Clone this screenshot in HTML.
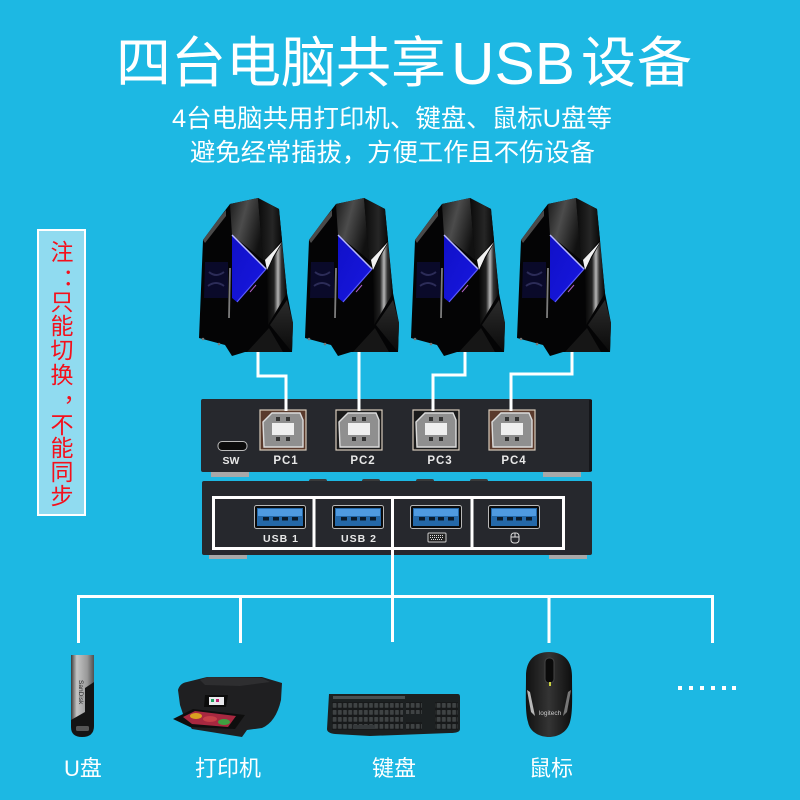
<!DOCTYPE html>
<html><head><meta charset="utf-8"><style>
html,body{margin:0;padding:0;background:#1db8e3}
svg{display:block}
.t{font-family:"Liberation Sans","Noto Sans CJK SC",sans-serif;fill:#fff}
.l{font-family:"Liberation Sans",sans-serif;font-weight:bold;fill:#e8e8e8;text-anchor:middle}
.n{font-family:"Liberation Sans","Noto Sans CJK SC",sans-serif;fill:#f4101c;font-size:23px;text-anchor:middle}
</style></head><body>
<svg width="800" height="800" viewBox="0 0 800 800" xmlns="http://www.w3.org/2000/svg">
<defs>
<linearGradient id="g1" x1="0" x2="1" y1="0" y2="0.5"><stop offset="0" stop-color="#1a1a1a"/><stop offset=".45" stop-color="#4c4c4c"/><stop offset="1" stop-color="#111"/></linearGradient>
<linearGradient id="g2" x1="0" x2="1" y1="0" y2="0"><stop offset="0" stop-color="#0a0a0a"/><stop offset=".6" stop-color="#262626"/><stop offset="1" stop-color="#080808"/></linearGradient>
<linearGradient id="g3" x1="0" x2="1" y1="0" y2="0"><stop offset="0" stop-color="#060606"/><stop offset=".35" stop-color="#222"/><stop offset=".55" stop-color="#b5b5b5"/><stop offset=".72" stop-color="#333"/><stop offset="1" stop-color="#050505"/></linearGradient>
<linearGradient id="g4" x1="0" x2="0" y1="0" y2="1"><stop offset="0" stop-color="#2c2c2c"/><stop offset="1" stop-color="#0a0a0a"/></linearGradient>
<linearGradient id="bl" x1="0" x2="1" y1="0" y2="1"><stop offset="0" stop-color="#1010c8"/><stop offset="1" stop-color="#1818e0"/></linearGradient>
<linearGradient id="st" x1="0" x2="1" y1="0" y2="0"><stop offset="0" stop-color="#3a3a3a"/><stop offset=".25" stop-color="#c4c4c4"/><stop offset=".7" stop-color="#9a9a9a"/><stop offset="1" stop-color="#505050"/></linearGradient>
<linearGradient id="ms" x1="0" x2="1" y1="0" y2="0"><stop offset="0" stop-color="#111"/><stop offset=".5" stop-color="#343434"/><stop offset="1" stop-color="#0e0e0e"/></linearGradient>
<pattern id="keys" width="5.200" height="7" patternUnits="userSpaceOnUse" x="332" y="702"><rect width="5.200" height="7" fill="#17191a"/><rect x=".7" y="1" width="3.800" height="4.800" rx=".7" fill="#3f4344"/></pattern>

<g id="tower">
<polygon points="230,204 258,198 279,209 282,240 287,293 293,323 292,352 245,352 232,356 225,345 199,338 203,240 220,217" fill="#040405"/>
<polygon points="203,240 220,217 226,210 226,216 205,243" fill="#4a4a4a"/>
<polygon points="205,262 228,262 228,298 204,298" fill="#0a0a2a"/>
<path d="M209 272q7 6 15 0M208 286q8-6 16 0" stroke="#2c2c58" stroke-width="2" fill="none"/>
<polygon points="230,204 258,198 263,260 232,235" fill="url(#g1)"/>
<polygon points="258,198 279,209 282,240 265,260 263,260" fill="url(#g2)"/>
<polygon points="232,235 266,269 237,302 232,298" fill="url(#bl)"/>
<path d="M232 235L266 269" stroke="#b8b8ff" stroke-width="1.500"/>
<path d="M237 302L266 269" stroke="#5c5cff" stroke-width="1.200"/>
<path d="M250 292l6-7" stroke="#b060c8" stroke-width="1"/>
<polygon points="282,242 265,260 267,270 273,257" fill="#f2f2f2"/>
<polygon points="267,270 282,243 287,293 268,325" fill="url(#g3)"/>
<path d="M230 268L229 318" stroke="#7c7c7c" stroke-width="1.800"/>
<polygon points="287,300 293,323 292,352 270,325" fill="url(#g4)"/>
<polygon points="247,352 269,328 283,352" fill="#161616"/>
<circle cx="203" cy="339" r="1.300" fill="#777"/><circle cx="219" cy="344" r="1.300" fill="#777"/>
</g>

<g id="pb">
<rect x="0" y="0" width="46" height="40" fill="none" stroke="#d8ccbc" stroke-width="1.200"/>
<polygon points="3,12 12,3 40,3 43,10 43,37 4,37" fill="#8f8f8f" stroke="#dcdcdc" stroke-width="1.400"/>
<rect x="12" y="13" width="22" height="12" fill="#efefef"/>
<rect x="16" y="7" width="4" height="4" fill="#333"/><rect x="26" y="7" width="4" height="4" fill="#333"/>
<rect x="16" y="27" width="4" height="4" fill="#333"/><rect x="26" y="27" width="4" height="4" fill="#333"/>
</g>

<g id="pa">
<rect x=".5" y=".5" width="51" height="23" rx="2" fill="#0a0a0a" stroke="#b8b8b8" stroke-width="1"/>
<rect x="3" y="3" width="46" height="18" fill="#2468a8"/>
<rect x="4" y="4" width="44" height="7" fill="#4f9ae0"/>
<rect x="9" y="12" width="6" height="3.500" fill="#0a1a2a"/><rect x="19" y="12" width="6" height="3.500" fill="#0a1a2a"/><rect x="28" y="12" width="6" height="3.500" fill="#0a1a2a"/><rect x="38" y="12" width="6" height="3.500" fill="#0a1a2a"/>
</g>
</defs>

<rect width="800" height="800" fill="#1db8e3"/>

<!-- headings -->
<text class="t" x="116" y="82" font-size="55" textLength="330" lengthAdjust="spacing">四台电脑共享</text>
<text class="t" x="451" y="84" font-size="59" textLength="124" lengthAdjust="spacingAndGlyphs">USB</text>
<text class="t" x="581" y="82" font-size="55" textLength="111" lengthAdjust="spacing">设备</text>
<text class="t" x="172" y="127" font-size="25" textLength="440" lengthAdjust="spacingAndGlyphs">4台电脑共用打印机、键盘、鼠标U盘等</text>
<text class="t" x="190" y="161" font-size="25" textLength="405" lengthAdjust="spacingAndGlyphs">避免经常插拔，方便工作且不伤设备</text>

<!-- note -->
<rect x="38" y="230" width="47" height="285" fill="#90dbf0" stroke="#fff" stroke-width="2"/>
<text class="n" x="62" y="260">注</text>
<text class="n" x="74" y="285">：</text>
<text class="n" x="62" y="310">只</text>
<text class="n" x="62" y="334">能</text>
<text class="n" x="62" y="358">切</text>
<text class="n" x="62" y="383">换</text>
<text class="n" x="75" y="401">，</text>
<text class="n" x="62" y="433">不</text>
<text class="n" x="62" y="456">能</text>
<text class="n" x="62" y="480">同</text>
<text class="n" x="62" y="504">步</text>

<!-- towers -->
<use href="#tower"/>
<use href="#tower" x="106"/>
<use href="#tower" x="212"/>
<use href="#tower" x="318"/>

<!-- top switch -->
<rect x="211" y="470" width="38" height="7" fill="#a8a8a8"/>
<rect x="543" y="470" width="38" height="7" fill="#a8a8a8"/>
<rect x="201" y="399" width="391" height="73" rx="2" fill="#26282d"/>
<rect x="589" y="400" width="3" height="71" fill="#15161a"/>
<rect x="218" y="441.500" width="29" height="9" rx="4" fill="#0c0c0c" stroke="#bbb" stroke-width="1"/>
<rect x="260" y="410" width="46" height="40" fill="#5a3a2c"/>
<rect x="336" y="410" width="46" height="40" fill="#1a1a1a"/>
<rect x="413" y="410" width="46" height="40" fill="#1a1a1a"/>
<rect x="489" y="410" width="46" height="40" fill="#5a3a2c"/>
<use href="#pb" x="260" y="410"/>
<use href="#pb" x="336" y="410"/>
<use href="#pb" x="413" y="410"/>
<use href="#pb" x="489" y="410"/>
<text class="l" x="231" y="464" font-size="10.500">SW</text>
<text class="l" x="286" y="464" font-size="11.500" letter-spacing="1">PC1</text>
<text class="l" x="363" y="464" font-size="11.500" letter-spacing="1">PC2</text>
<text class="l" x="440" y="464" font-size="11.500" letter-spacing="1">PC3</text>
<text class="l" x="514" y="464" font-size="11.500" letter-spacing="1">PC4</text>

<!-- cables top -->
<g fill="none" stroke="#fff" stroke-width="3">
<path d="M258 352V376H286V411"/>
<path d="M359 352V411"/>
<path d="M465 352V375H433V411"/>
<path d="M572 352V374H511V411"/>
</g>

<!-- bottom switch -->
<rect x="209" y="553" width="38" height="6" fill="#a8a8a8"/>
<rect x="549" y="553" width="38" height="6" fill="#a8a8a8"/>
<rect x="309" y="479" width="18" height="4" rx="2" fill="#3a3a3a"/><rect x="362" y="479" width="18" height="4" rx="2" fill="#3a3a3a"/><rect x="416" y="479" width="18" height="4" rx="2" fill="#3a3a3a"/><rect x="470" y="479" width="18" height="4" rx="2" fill="#3a3a3a"/>
<rect x="202" y="481" width="390" height="74" rx="2" fill="#26282d"/>
<use href="#pa" x="254" y="505"/>
<use href="#pa" x="332" y="505"/>
<use href="#pa" x="410" y="505"/>
<use href="#pa" x="488" y="505"/>
<text class="l" x="281" y="542" font-size="10.500" letter-spacing="1">USB 1</text>
<text class="l" x="359" y="542" font-size="10.500" letter-spacing="1">USB 2</text>
<rect x="428" y="533" width="18" height="9" rx="1" fill="#222" stroke="#ccc" stroke-width="1"/>
<path d="M430 535.500h14M430 537.500h14M431 539.500h12" stroke="#ddd" stroke-width="1" stroke-dasharray="1 1"/>
<rect x="511" y="533" width="8" height="10" rx="3" fill="none" stroke="#ddd" stroke-width="1"/>
<path d="M515 533v4M511 537h8" stroke="#ddd" stroke-width="1"/>

<g fill="none" stroke="#fff" stroke-width="3">
<rect x="213.500" y="497.500" width="350" height="51"/>
<path d="M314 497V549M392.500 497V549M472 497V549"/>
<path d="M392.500 549V642"/>
<path d="M78.500 643V596.500H712.500V643"/>
<path d="M240.500 596V643M549 596V643"/>
</g>

<!-- usb drive -->
<path d="M71 655H94V726Q94 737 82 737Q71 737 71 727Z" fill="#141414"/>
<polygon points="71,655 94,655 94,682 85,688 85,712 71,720" fill="url(#st)"/>
<rect x="76" y="726" width="13" height="5" rx="1.500" fill="#555"/>
<text transform="translate(79,680) rotate(90)" font-family="Liberation Sans" font-size="6.500" fill="#222">SanDisk</text>

<!-- printer -->
<path d="M178 690Q180 683 187 682L207 677H262L282 683L281 700Q276 722 262 728L247 730L242 737L192 729L185 720L180 705Z" fill="#1f1f21"/>
<polygon points="200,680 208,677 262,678 270,682 240,686 205,685" fill="#2e2e30"/>
<polygon points="205,695 228,695 226,707 204,707" fill="#0c0c0c"/>
<rect x="209" y="697" width="15" height="8" fill="#e8e8ec"/>
<rect x="211" y="699" width="3" height="3" fill="#20a060"/><rect x="216" y="699" width="3" height="3" fill="#c02070"/>
<polygon points="173,719 193,709 245,715 235,729 190,727" fill="#0e0e0e"/>
<polygon points="183,717 195,711 236,716 228,727 192,724" fill="#a82840"/>
<ellipse cx="196" cy="716" rx="6" ry="3" fill="#d8a020"/><ellipse cx="210" cy="719" rx="7" ry="3" fill="#c84048"/><ellipse cx="224" cy="722" rx="6" ry="3" fill="#40a040"/>

<!-- keyboard -->
<path d="M329 694H458Q460 694 460 697L460 729Q460 733 450 733L370 736L335 734Q327 733 327 729Z" fill="#1c2021"/>
<rect x="332" y="702" width="71" height="28" fill="url(#keys)"/>
<rect x="406" y="702" width="16" height="12" fill="url(#keys)"/>
<rect x="406" y="722" width="16" height="8" fill="url(#keys)"/>
<rect x="435" y="702" width="23" height="28" fill="url(#keys)"/>
<rect x="333" y="696" width="72" height="3" fill="#4a4f51"/>
<rect x="353" y="725" width="22" height="4" fill="#35393b"/>

<!-- mouse -->
<path d="M549 652C563 652 572 660 572 676C572 695 573 712 570 722C567 733 557 737 549 737C541 737 530 733 528 722C525 712 526 695 526 676C526 660 535 652 549 652Z" fill="url(#ms)"/>
<path d="M527 690L531 712L535 716L530 692Z" fill="#b8b8b8"/>
<path d="M571 690L567 712L563 716L568 692Z" fill="#777"/>
<rect x="545" y="658" width="9" height="25" rx="4" fill="#0a0a0a" stroke="#444" stroke-width="1"/>
<rect x="549" y="682" width="2" height="4" fill="#c8d040"/>
<text x="550" y="715" text-anchor="middle" font-family="Liberation Sans" font-size="6.500" fill="#c8c8c8">logitech</text>

<!-- dots -->
<g fill="#fff"><rect x="678" y="686" width="4" height="4"/><rect x="689" y="686" width="4" height="4"/><rect x="700" y="686" width="4" height="4"/><rect x="711" y="686" width="4" height="4"/><rect x="722" y="686" width="4" height="4"/><rect x="732" y="686" width="4" height="4"/></g>

<!-- labels -->
<text class="t" x="64" y="776" font-size="22">U盘</text>
<text class="t" x="195" y="776" font-size="22">打印机</text>
<text class="t" x="372" y="776" font-size="22">键盘</text>
<text class="t" x="529" y="776" font-size="22">鼠标</text>
</svg>
</body></html>
